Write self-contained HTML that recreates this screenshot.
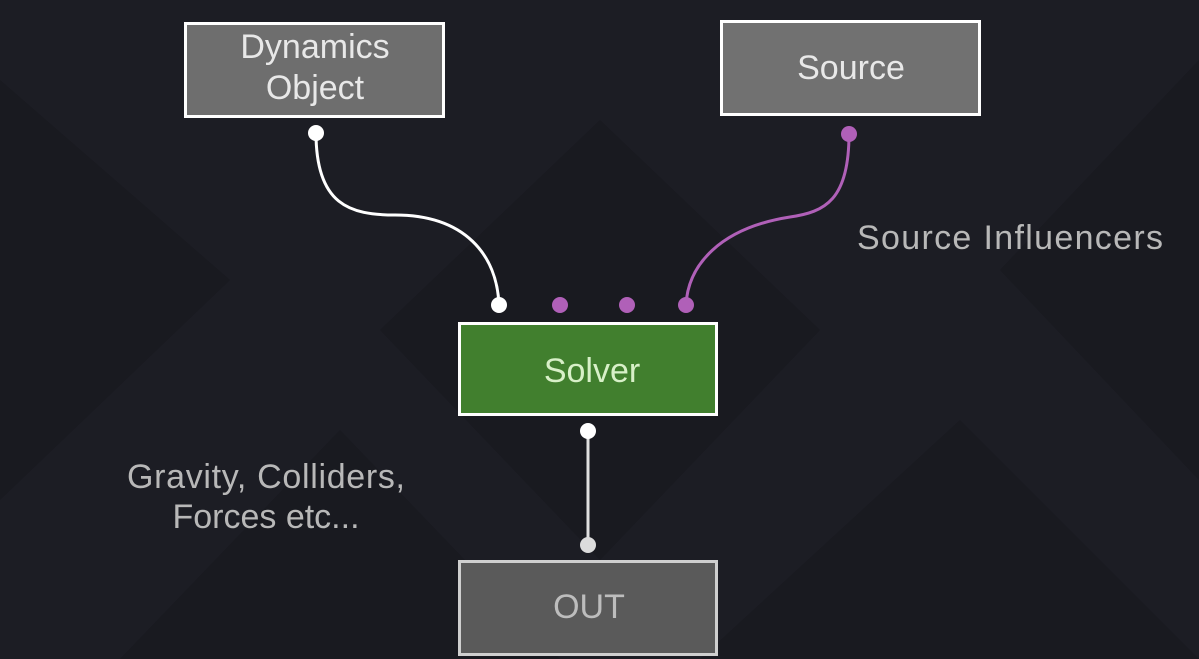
<!DOCTYPE html>
<html><head><meta charset="utf-8"><style>
html,body{margin:0;padding:0;background:#1c1d24;width:1199px;height:659px;overflow:hidden}
svg{display:block}
text{font-family:"Liberation Sans",sans-serif}
</style></head><body>
<svg width="1199" height="659" viewBox="0 0 1199 659">
<rect width="1199" height="659" fill="#1c1d24"/>
<g fill="#191a20">
<polygon points="0,80 230,280 0,500"/>
<polygon points="380,330 600,120 820,330 600,560"/>
<polygon points="1199,60 1000,270 1199,480"/>
<polygon points="120,659 340,430 560,659"/>
<polygon points="700,659 960,420 1199,659"/>
</g>
<path d="M316,133 C316,205 350,215 395,215 C465,215 497,255 499,305" fill="none" stroke="#fff" stroke-width="3"/>
<path d="M849,134 C849,200 825,212 790,217 C720,228 688,265 686,305" fill="none" stroke="#b060b8" stroke-width="3"/>
<line x1="588" y1="431" x2="588" y2="545" stroke="#e0e0e0" stroke-width="3"/>
<rect x="185.5" y="23.5" width="258" height="93" fill="#6e6e6e" stroke="#fff" stroke-width="3"/>
<rect x="721.5" y="21.5" width="258" height="93" fill="#717171" stroke="#fff" stroke-width="3"/>
<rect x="459.5" y="323.5" width="257" height="91" fill="#417f2e" stroke="#fff" stroke-width="3"/>
<rect x="459.5" y="561.5" width="257" height="93" fill="#5a5a5a" stroke="#cfcfcf" stroke-width="3"/>
<g fill="#fff"><circle cx="316" cy="133" r="8"/><circle cx="499" cy="305" r="8"/><circle cx="588" cy="431" r="8"/></g>
<circle cx="588" cy="545" r="8" fill="#dcdcdc"/>
<g fill="#b060b8"><circle cx="849" cy="134" r="8"/><circle cx="560" cy="305" r="8"/><circle cx="627" cy="305" r="8"/><circle cx="686" cy="305" r="8"/></g>
<g text-anchor="middle" font-size="34" fill="#e8e8e8">
<text x="315" y="58">Dynamics</text>
<text x="315" y="99">Object</text>
<text x="851" y="79">Source</text>
<text x="592" y="382" fill="#d8f0c8">Solver</text>
<text x="589" y="618" fill="#bdbdbd">OUT</text>
</g>
<g font-size="34" fill="#b8b8b8">
<text x="857" y="249" textLength="306">Source Influencers</text>
<text x="127" y="488" textLength="278">Gravity, Colliders,</text>
<text x="266" y="528" text-anchor="middle">Forces etc...</text>
</g>
</svg>
</body></html>
